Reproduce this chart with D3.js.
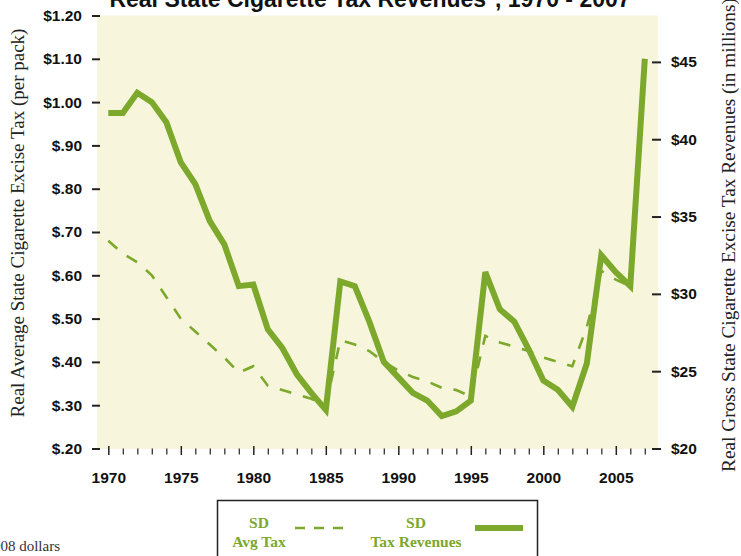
<!DOCTYPE html>
<html>
<head>
<meta charset="utf-8">
<script src="https://cdn.jsdelivr.net/npm/d3@7"></script>
<style>
  body { margin: 0; background: #ffffff; }
  svg { display: block; }
</style>
</head>
<body>
<svg id="chart" width="741" height="556"></svg>
<script>
// Years covered by the revenue series
const years = [1970, 1971, 1972, 1973, 1974, 1975, 1976, 1977, 1978, 1979,
               1980, 1981, 1982, 1983, 1984, 1985, 1986, 1987, 1988, 1989,
               1990, 1991, 1992, 1993, 1994, 1995, 1996, 1997, 1998, 1999,
               2000, 2001, 2002, 2003, 2004, 2005, 2006, 2007];

// SD real average excise tax per pack (2008 dollars), 1970-2006
const avgTax = [0.68, 0.65, 0.63, 0.60, 0.55, 0.50, 0.47, 0.44, 0.41, 0.375,
                0.39, 0.345, 0.335, 0.325, 0.315, 0.30, 0.45, 0.44, 0.425, 0.40,
                0.38, 0.365, 0.355, 0.34, 0.335, 0.32, 0.46, 0.445, 0.435, 0.425,
                0.41, 0.40, 0.39, 0.48, 0.61, 0.59, 0.575];

// SD real gross cigarette excise tax revenues, $ millions, 1970-2007
const revenues = [41.7, 41.7, 43.0, 42.4, 41.1, 38.5, 37.1, 34.7, 33.2, 30.5,
                  30.6, 27.7, 26.5, 24.8, 23.6, 22.5, 30.8, 30.5, 28.2, 25.6,
                  24.6, 23.6, 23.1, 22.1, 22.4, 23.1, 31.4, 29.0, 28.2, 26.4,
                  24.4, 23.8, 22.7, 25.5, 32.5, 31.4, 30.5, 45.2];

// Axis tick values and their labels
const taxTicks = [0.20, 0.30, 0.40, 0.50, 0.60, 0.70, 0.80, 0.90, 1.00, 1.10, 1.20];
const taxTickLabels = ["$.20", "$.30", "$.40", "$.50", "$.60", "$.70", "$.80", "$.90", "$1.00", "$1.10", "$1.20"];
const revTicks = [20, 25, 30, 35, 40, 45];
const revTickLabels = ["$20", "$25", "$30", "$35", "$40", "$45"];
const yearLabels = [1970, 1975, 1980, 1985, 1990, 1995, 2000, 2005];

const GREEN = "#7ca82c";
const SANS = "'Liberation Sans', Arial, Helvetica, sans-serif";
const SERIF = "'Liberation Serif', 'Times New Roman', serif";

const svg = d3.select("#chart");

const plot = { left: 97, right: 658, top: 15.5, bottom: 448.5 };

const x = d3.scaleLinear().domain([1969.22, 2007.91]).range([plot.left, plot.right]);
const yTax = d3.scaleLinear().domain([0.20, 1.20]).range([plot.bottom, plot.top]);
const yRev = d3.scaleLinear().domain([20, 48]).range([plot.bottom, plot.top]);

// Plot background
svg.append("rect")
  .attr("x", plot.left).attr("y", plot.top)
  .attr("width", plot.right - plot.left)
  .attr("height", plot.bottom - plot.top + 0.5)
  .attr("fill", "#f7f5dc");

// Title (runs off the top edge)
svg.append("text")
  .attr("x", 370).attr("y", 6.5)
  .attr("text-anchor", "middle")
  .attr("font-family", SANS).attr("font-weight", "bold")
  .attr("font-size", 23).attr("fill", "#111")
  .text("Real State Cigarette Tax Revenues*, 1970 - 2007");

function styleAxis(g) {
  g.select(".domain").remove();
  g.selectAll(".tick line").attr("stroke", "#222").attr("stroke-width", 2);
  g.selectAll(".tick text")
    .attr("font-family", SANS).attr("font-weight", "bold")
    .attr("font-size", 15.5).attr("fill", "#111");
}

// Left axis: average tax per pack
svg.append("g")
  .attr("transform", `translate(100,0)`)
  .call(d3.axisLeft(yTax).tickValues(taxTicks).tickSize(8).tickPadding(10)
        .tickFormat((d, i) => taxTickLabels[i]))
  .call(styleAxis);

// Right axis: gross revenues
svg.append("g")
  .attr("transform", `translate(652,0)`)
  .call(d3.axisRight(yRev).tickValues(revTicks).tickSize(9).tickPadding(10)
        .tickFormat((d, i) => revTickLabels[i]))
  .call(styleAxis);

// Bottom axis: minor ticks every year, major ticks with labels every 5 years
const minorYears = years.filter(y => yearLabels.indexOf(y) < 0);
svg.append("g")
  .attr("transform", `translate(0,448.5)`)
  .call(d3.axisBottom(x).tickValues(minorYears).tickSize(6).tickFormat(""))
  .call(g => {
    g.select(".domain").remove();
    g.selectAll(".tick line").attr("stroke", "#333").attr("stroke-width", 1.3);
  });
svg.append("g")
  .attr("transform", `translate(0,446)`)
  .call(d3.axisBottom(x).tickValues(yearLabels).tickSize(9).tickPadding(17)
        .tickFormat(d3.format("d")))
  .call(styleAxis)
  .call(g => g.selectAll(".tick line").attr("stroke-width", 1.5));

// Revenue series (solid, right axis)
const revLine = d3.line()
  .x((d, i) => x(years[i]))
  .y(d => yRev(d));
svg.append("path")
  .datum(revenues)
  .attr("d", revLine)
  .attr("fill", "none")
  .attr("stroke", GREEN)
  .attr("stroke-width", 6)
  .attr("stroke-linejoin", "miter");

// Average tax series (dashed, left axis)
const taxLine = d3.line()
  .x((d, i) => x(years[i]))
  .y(d => yTax(d));
svg.append("path")
  .datum(avgTax)
  .attr("d", taxLine)
  .attr("fill", "none")
  .attr("stroke", GREEN)
  .attr("stroke-width", 2.6)
  .attr("stroke-dasharray", "12,12");

// Axis titles
svg.append("text")
  .attr("transform", "translate(24,223) rotate(-90)")
  .attr("text-anchor", "middle")
  .attr("font-family", SERIF).attr("font-size", 19).attr("fill", "#222")
  .text("Real Average State Cigarette Excise Tax (per pack)");

svg.append("text")
  .attr("transform", "translate(735,235) rotate(-90)")
  .attr("text-anchor", "middle")
  .attr("font-family", SERIF).attr("font-size", 19.3).attr("fill", "#222")
  .text("Real Gross State Cigarette Excise Tax Revenues (in millions)");

// Footnote (runs off the left edge)
svg.append("text")
  .attr("x", 60).attr("y", 551)
  .attr("text-anchor", "end")
  .attr("font-family", SERIF).attr("font-size", 15).attr("fill", "#333")
  .text("*In 2008 dollars");

// Legend
const legend = svg.append("g");
legend.append("rect")
  .attr("x", 217.5).attr("y", 500.5)
  .attr("width", 320).attr("height", 80)
  .attr("fill", "#ffffff").attr("stroke", "#222").attr("stroke-width", 1.5);

const legendItems = [
  { lines: ["SD", "Avg Tax"], cx: 259, x0: 295, x1: 343, width: 2.6, dash: "10,9" },
  { lines: ["SD", "Tax Revenues"], cx: 416, x0: 475, x1: 523, width: 6, dash: null }
];
legendItems.forEach(item => {
  item.lines.forEach((t, j) => {
    legend.append("text")
      .attr("x", item.cx).attr("y", 528 + j * 19)
      .attr("text-anchor", "middle")
      .attr("font-family", SERIF).attr("font-weight", "bold")
      .attr("font-size", 15.5).attr("fill", GREEN)
      .text(t);
  });
  legend.append("line")
    .attr("x1", item.x0).attr("x2", item.x1)
    .attr("y1", 528).attr("y2", 528)
    .attr("stroke", GREEN).attr("stroke-width", item.width)
    .attr("stroke-dasharray", item.dash);
});
</script>
</body>
</html>
